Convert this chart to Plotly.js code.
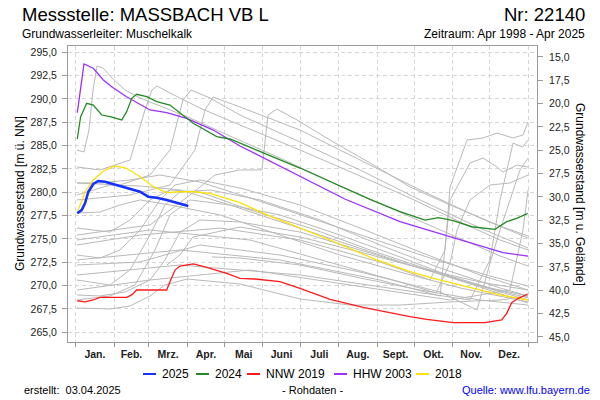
<!DOCTYPE html>
<html><head><meta charset="utf-8">
<script src="https://cdn.plot.ly/plotly-3.0.1.min.js"></script>
<style>html,body{margin:0;padding:0;background:#fff}#chart{width:600px;height:400px}</style>
</head><body><div id="chart"></div>
<script>
// ---------- data ----------
const monthStarts = [0,31,59,90,120,151,181,212,243,273,304,334,365];
const monthMids = [15.5,45,74.5,105,135.5,166,196.5,227.5,258,288.5,319,349.5];
const monthNames = ['Jan.','Feb.','Mrz.','Apr.','Mai','Juni','Juli','Aug.','Sept.','Okt.','Nov.','Dez.'];
const levelTicks = [265,267.5,270,272.5,275,277.5,280,282.5,285,287.5,290,292.5,295];
const depthTicks = [15,17.5,20,22.5,25,27.5,30,32.5,35,37.5,40,42.5,45];
const groundLevel = 309.5; // m ü. NN, Geländehöhe

const y2025Day = [1.3,4.8,7.5,10.2,14.2,18.2,23.6,30.3,41.1,51.9,58.5,65.3,73.4,81.5,90.8];
const y2025Lvl = [277.75,278.10,278.82,280.06,280.89,281.21,281.14,280.89,280.54,280.06,279.53,279.42,279.17,278.89,278.53];

const y2024Day = [1.3,4,8.9,14.2,21,27.7,37.1,41.1,45.2,49.2,57.3,65.3,76,94.8,113.7,124.4,180.9,237.3,261.5,281.7,292.4,304.5,319.4,338.1,347.6,355.6,364.5];
const y2024Lvl = [285.71,288.10,289.54,289.35,288.28,288.10,287.75,288.64,290.07,290.50,290.24,289.71,289.35,287.39,285.96,285.71,282.60,279.25,277.92,277.03,277.28,276.96,276.31,276.03,276.85,277.21,277.75];

const nnw2019Day = [1.3,7.5,14.2,19.6,41.1,45.2,49.2,59.9,66.6,73.4,76,80.1,84.1,94.8,105.6,121.8,132.5,144.6,164.8,180.9,205.1,231.9,269.6,283.1,304.5,330.1,343.5,347.6,351.6,356.9,364.5];
const nnw2019Lvl = [268.38,268.25,268.46,268.75,268.75,269.00,269.53,269.53,269.46,269.53,270.42,271.67,272.10,272.32,271.96,271.32,270.78,270.71,270.42,269.71,268.53,267.68,266.67,266.39,266.03,266.03,266.32,267.03,268.17,268.64,269.10];

const hhw2003Day = [1.3,6.7,14.2,22.3,29,41,60,73.4,89.5,111,132.5,180.9,217,261.5,310,344.6,364.8];
const hhw2003Lvl = [288.53,293.75,293.29,292.03,291.31,290.24,288.82,288.53,287.93,286.67,284.96,281.71,279.28,276.85,274.89,273.53,273.17];

const y2018Day = [1.3,5.6,7.5,14.2,22.3,31.7,41.1,51.9,62.6,73.4,84.1,94.8,108.3,121.8,132.5,151.3,178.2,205.1,242.7,269.6,288.4,315.3,342.2,364.5];
const y2018Lvl = [277.92,279.25,280.06,281.32,282.28,282.82,282.57,281.67,280.60,279.96,280.06,280.06,279.89,279.36,278.89,277.75,276.31,274.89,272.75,271.49,270.78,269.89,269.00,268.46];

// other years (grey)
const otherDays = [
  [1.0,6.7,10.7,14.0,17.2,22.0,29.3,39.8,51.9,68.0,92.2,124.4,164.8,213.1,261.5,301.9,342.2,364.8],
  [1.0,19.6,43.8,55.9,61.5,65.6,76.0,100.2,132.5,180.9,229.3,269.6,309.9,342.2,364.8],
  [1.0,35.7,59.9,76.0,86.5,93.0,108.3,132.5,180.9,229.3,277.7,326.0,364.8],
  [1.0,43.8,76.0,96.2,104.3,110.7,132.5,180.9,229.3,277.7,326.0,364.8],
  [1.0,59.9,92.2,112.3,132.5,150.2,155.1,162.3,178.5,205.1,243.0,269.6,301.9,342.2,364.8],
  [1.0,19.6,35.7,51.9,68.0,80.1,100.2,132.5,180.9,229.3,277.7,326.0,364.8],
  [1.0,27.7,43.8,59.9,72.0,84.1,108.3,148.6,197.0,245.4,293.8,342.2,364.8],
  [1.0,27.7,47.8,64.0,76.0,92.2,124.4,164.8,213.1,261.5,309.9,364.8],
  [1.0,19.6,39.8,59.9,72.0,84.1,100.2,132.5,180.9,229.3,277.7,326.0,364.8],
  [1.0,27.7,43.8,59.9,76.0,100.2,140.6,189.0,237.3,285.7,334.1,364.8],
  [1.0,19.6,35.7,51.9,76.0,116.4,164.8,213.1,261.5,309.9,364.8],
  [1.0,15.6,27.7,51.9,84.1,124.4,172.8,221.2,269.6,318.0,364.8],
  [1.0,19.6,43.8,68.0,100.2,140.6,189.0,237.3,285.7,334.1,364.8],
  [1.0,27.7,43.8,59.9,72.0,89.8,132.5,180.9,221.2,261.5,301.9,342.2,364.8],
  [109.9,132.5,180.9,229.3,277.7,326.0,364.8],
  [73.6,84.1,94.6,112.3,132.5,180.9,229.3,277.7,326.0,364.8],
  [1.0,59.9,140.6,205.1,261.5,290.6,301.9,307.5,318.0,334.1,350.2,364.8],
  [1.0,51.9,100.2,164.8,229.3,293.8,323.6,334.1,342.2,350.2,358.3,364.8],
  [1.0,59.9,140.6,221.2,301.9,350.2,360.7,364.8],
  [1.0,51.9,116.4,180.9,245.4,285.7,297.8,301.9,315.6,328.5,339.8,352.7,360.7,364.8],
  [1.0,84.1,164.8,245.4,293.8,297.8,301.9,318.0,328.5,339.8,344.6,355.9,364.8],
  [1.0,84.1,180.9,261.5,318.0,334.1,342.2,352.7,360.4,364.8]
];
const otherLevels = [
  [284.53,284.32,286.67,290.96,293.53,293.32,292.25,290.96,290.10,289.25,287.96,286.03,283.67,280.67,277.89,275.53,273.17,272.10],
  [282.71,282.39,283.46,288.82,290.96,291.39,290.64,289.03,287.21,284.53,281.75,279.39,276.82,274.89,273.82],
  [281.00,280.78,281.85,284.53,289.89,290.96,290.10,288.28,285.39,282.39,279.18,276.17,274.03],
  [279.18,279.71,280.78,284.53,288.82,290.21,289.14,286.67,283.46,280.25,277.25,275.10],
  [275.42,276.50,279.71,281.85,282.39,282.39,288.28,288.92,287.75,285.60,282.71,280.57,278.64,276.39,275.32],
  [273.28,272.96,273.82,275.96,279.18,280.78,281.32,280.46,278.64,276.17,273.60,271.14,269.53],
  [270.60,270.07,271.68,275.42,278.64,280.03,280.25,279.18,277.03,274.35,271.89,269.75,268.89],
  [268.46,268.89,270.07,273.82,277.57,279.18,278.64,277.57,275.42,273.07,270.60,268.46],
  [269.00,268.89,269.32,270.60,272.75,275.74,277.03,276.82,275.74,273.82,271.89,269.85,268.14],
  [276.17,275.74,277.03,279.18,280.25,280.03,278.10,276.17,273.82,271.68,269.75,268.89],
  [277.78,277.89,278.64,279.18,278.64,277.57,275.42,273.28,271.46,269.75,268.25],
  [279.71,280.25,280.78,280.67,280.25,278.64,276.50,274.35,272.21,270.28,268.67],
  [281.00,281.00,281.32,281.85,281.10,279.39,277.25,275.10,272.96,271.03,269.96],
  [267.60,267.50,267.82,268.89,270.07,270.71,270.17,268.57,267.92,267.92,268.25,268.46,268.89],
  [273.07,272.96,272.21,270.82,269.53,268.46,267.92],
  [272.21,273.28,275.21,275.74,276.28,275.21,273.60,271.89,270.39,269.53],
  [274.89,275.96,274.89,272.53,270.39,269.21,272.42,275.96,279.18,280.78,281.00,281.85],
  [272.21,272.53,274.35,273.28,271.46,269.32,267.39,272.42,275.96,279.18,282.39,283.67],
  [269.53,270.60,271.68,270.07,268.46,269.53,275.96,280.25],
  [274.35,275.42,276.17,274.89,272.53,270.60,273.82,280.57,285.60,285.82,286.35,285.82,286.14,287.53],
  [272.75,273.82,272.75,270.60,268.89,274.0,279.18,283.14,283.67,282.71,282.17,282.92,282.71],
  [271.14,272.21,271.14,269.53,268.46,272.75,279.18,285.28,284.85,285.60]
];

const seriesNames = ['2025','2024','NNW 2019','HHW 2003','2018'];

// ---------- styles ----------
const FONT = 'Liberation Sans, Arial, sans-serif';
const C = {blue:'#1432ff', green:'#238b23', red:'#ff1a1a', purple:'#9b30ff', yellow:'#ffe000', grey:'#b9b9b9'};
const seriesColors = [C.blue, C.green, C.red, C.purple, C.yellow];

const traces = [];
otherDays.forEach((d,i)=>{
  traces.push({x:d, y:otherLevels[i], mode:'lines', line:{color:C.grey, width:1}, hoverinfo:'skip', showlegend:false});
});
traces.push({x:y2018Day, y:y2018Lvl, name:'2018', mode:'lines', line:{color:C.yellow, width:1.3}, showlegend:false});
traces.push({x:hhw2003Day, y:hhw2003Lvl, name:'HHW 2003', mode:'lines', line:{color:C.purple, width:1.3}, showlegend:false});
traces.push({x:nnw2019Day, y:nnw2019Lvl, name:'NNW 2019', mode:'lines', line:{color:C.red, width:1.3}, showlegend:false});
traces.push({x:y2024Day, y:y2024Lvl, name:'2024', mode:'lines', line:{color:C.green, width:1.3}, showlegend:false});
traces.push({x:y2025Day, y:y2025Lvl, name:'2025', mode:'lines', line:{color:C.blue, width:2.6}, showlegend:false});
// helper traces so that the secondary axes are drawn
traces.push({x:[0], y:[280], xaxis:'x2', mode:'lines', line:{width:0}, hoverinfo:'skip', showlegend:false});
traces.push({x:[0], y:[30], yaxis:'y2', mode:'lines', line:{width:0}, hoverinfo:'skip', showlegend:false});

// pixel helpers for page furniture
const PL=68, PR=537, PT=46, PB=342;
const px = v => (v-PL)/(PR-PL);
const py = v => (PB-v)/(PB-PT);

const yRange = [263.96, 295.675];
const xRange = [-6.2, 372];

const annotations = [
  {text:'Messstelle: MASSBACH VB L', x:px(20), y:py(15), xanchor:'left', yanchor:'middle', font:{size:18.5, color:'#000'}},
  {text:'Nr: 22140', x:px(587), y:py(15), xanchor:'right', yanchor:'middle', font:{size:18.5, color:'#000'}},
  {text:'Grundwasserleiter: Muschelkalk', x:px(20), y:py(34), xanchor:'left', yanchor:'middle', font:{size:12, color:'#000'}},
  {text:'Zeitraum: Apr 1998 - Apr 2025', x:px(587), y:py(34), xanchor:'right', yanchor:'middle', font:{size:12, color:'#000'}},
  {text:'Grundwasserstand [m ü. NN]', x:px(20), y:0.5, textangle:-90, xanchor:'center', yanchor:'middle', font:{size:12, color:'#000'}},
  {text:'Grundwasserstand [m u. Gelände]', x:px(580), y:0.5, textangle:90, xanchor:'center', yanchor:'middle', font:{size:12, color:'#000'}},
  {text:'erstellt:  03.04.2025', x:px(22), y:py(390), xanchor:'left', yanchor:'middle', font:{size:11, color:'#000'}},
  {text:'- Rohdaten -', x:px(312), y:py(390), xanchor:'center', yanchor:'middle', font:{size:11, color:'#000'}},
  {text:'Quelle: www.lfu.bayern.de', x:px(592), y:py(390), xanchor:'right', yanchor:'middle', font:{size:11, color:'#0000ff'}}
];
const shapes = [];
const legendSampleX = [143,196,247,334,416];
const legendY = 374;
seriesNames.forEach((n,i)=>{
  const x0 = legendSampleX[i];
  shapes.push({type:'line', xref:'paper', yref:'paper', x0:px(x0), x1:px(x0+13), y0:py(legendY), y1:py(legendY), line:{color:seriesColors[i], width:2}});
  annotations.push({text:n, x:px(x0+17), y:py(legendY), xanchor:'left', yanchor:'middle', font:{size:12, color:'#000'}});
});
annotations.forEach(a=>{a.xref='paper'; a.yref='paper'; a.showarrow=false;});

const axisCol = '#9a9a9a';
const layout = {
  width:600, height:400,
  margin:{l:PL, r:600-PR, t:PT, b:400-PB, pad:0},
  paper_bgcolor:'#fff', plot_bgcolor:'#fff',
  separators:',.',
  font:{family:FONT, color:'#222'},
  showlegend:false,
  xaxis:{range:xRange, tickvals:monthStarts, showticklabels:false, ticks:'outside', ticklen:4, tickcolor:axisCol,
         showgrid:true, gridcolor:'#d6d6d6', griddash:'4px,3px', gridwidth:1, zeroline:false,
         showline:true, linecolor:axisCol, linewidth:1, mirror:true},
  xaxis2:{range:xRange, overlaying:'x', side:'bottom', tickvals:monthMids, ticktext:monthNames, ticks:'',
          showgrid:false, zeroline:false, showline:false, ticklabelstandoff:4,
          tickfont:{family:FONT, size:10.5, weight:'bold', color:'#222'}},
  yaxis:{range:yRange, tickvals:levelTicks, tickformat:'.1f', ticks:'outside', ticklen:5, tickcolor:axisCol,
         showgrid:true, gridcolor:'#d6d6d6', griddash:'4px,3px', gridwidth:1, zeroline:false,
         showline:true, linecolor:axisCol, linewidth:1, mirror:true, ticklabelstandoff:3,
         tickfont:{family:FONT, size:10.5, color:'#222'}},
  yaxis2:{range:[groundLevel-yRange[0], groundLevel-yRange[1]], overlaying:'y', side:'right', tickvals:depthTicks, tickformat:'.1f',
          ticks:'outside', ticklen:5, tickcolor:axisCol, showgrid:false, zeroline:false, showline:true, linecolor:axisCol,
          ticklabelstandoff:4, tickfont:{family:FONT, size:10.5, color:'#222'}},
  annotations:annotations,
  shapes:shapes
};
Plotly.newPlot('chart', traces, layout, {displayModeBar:false, staticPlot:true});
</script></body></html>
